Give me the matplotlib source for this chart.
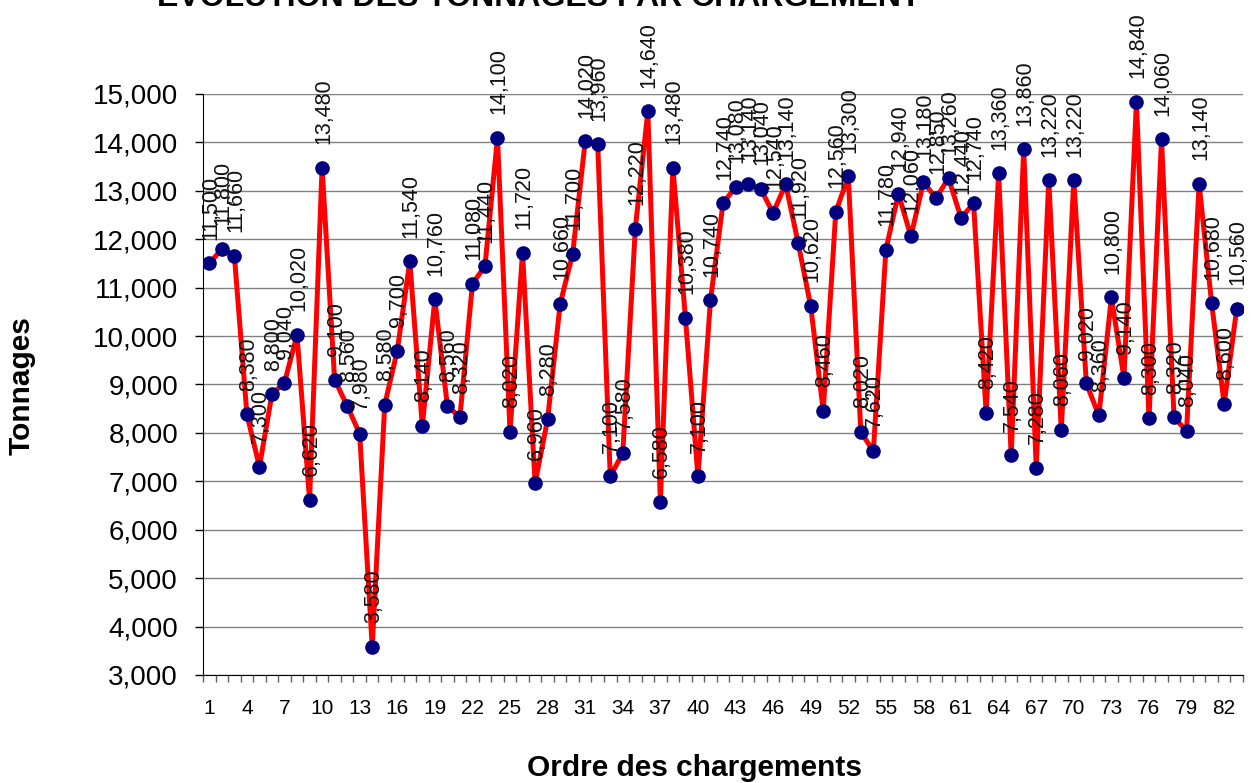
import matplotlib
matplotlib.use("Agg")
from matplotlib import pyplot as plt
from matplotlib.ticker import FuncFormatter, MultipleLocator

OUTPUT_FILE = "out.png"

TITLE = "EVOLUTION DES TONNAGES PAR CHARGEMENT"
X_LABEL = "Ordre des chargements"
Y_LABEL = "Tonnages"

# one value per loading, in order (1..83)
chargements = list(range(1, 84))
tonnages = [
    11500, 11800, 11660, 8380, 7300, 8800, 9040, 10020, 6620, 13480,
    9100, 8560, 7980, 3580, 8580, 9700, 11540, 8140, 10760, 8560,
    8320, 11080, 11440, 14100, 8020, 11720, 6960, 8280, 10660, 11700,
    14020, 13960, 7100, 7580, 12220, 14640, 6580, 13480, 10380, 7100,
    10740, 12740, 13080, 13140, 13040, 12540, 13140, 11920, 10620, 8460,
    12560, 13300, 8020, 7620, 11780, 12940, 12060, 13180, 12850, 13260,
    12440, 12740, 8420, 13360, 7540, 13860, 7280, 13220, 8060, 13220,
    9020, 8360, 10800, 9140, 14840, 8300, 14060, 8320, 8040, 13140,
    10680, 8600, 10560,
]
x_tick_labels = chargements[::3]


def thousands(v, pos):
    return "{:,.0f}".format(v)


def main():
    plt.rcParams['font.family'] = ["Liberation Sans", "DejaVu Sans"]

    fig = plt.figure(figsize=(12.55, 7.83), dpi=100)
    ax = fig.add_axes([0.1618, 0.138, 0.8286, 0.742])

    ax.plot(chargements, tonnages, color='#ff0000', linewidth=3.6,
            marker='o', markersize=9.5, markerfacecolor='#000080',
            markeredgecolor='#000080', zorder=3)

    # value above every point
    for x, y in zip(chargements, tonnages):
        ax.annotate("{:,}".format(y), (x, y), xytext=(1, 17),
                    textcoords='offset points', rotation=90,
                    ha='center', va='bottom', fontsize=15.5,
                    color='#111111', zorder=4, annotation_clip=False)

    ax.set_xlim(0.5, 83.5)
    ax.set_ylim(3000, 15000)

    # y axis
    ax.yaxis.set_major_locator(MultipleLocator(1000))
    ax.yaxis.set_major_formatter(FuncFormatter(thousands))
    ax.tick_params(axis='y', which='major', labelsize=20, length=6,
                   width=1, pad=12, color='#000000')
    ax.grid(axis='y', color='#808080', linewidth=1.0, zorder=0)

    # x axis: labels every third loading, small ticks between categories
    ax.set_xticks(x_tick_labels)
    ax.set_xticks([i + 0.5 for i in range(0, 84)], minor=True)
    ax.tick_params(axis='x', which='major', labelsize=15, length=0, pad=17)
    ax.tick_params(axis='x', which='minor', length=5, width=1,
                   color='#606060', direction='out')

    for side in ['top', 'right']:
        ax.spines[side].set_visible(False)
    ax.spines['left'].set_color('#000000')
    ax.spines['bottom'].set_color('#000000')
    ax.axhline(15000, color='#e6e6e6', linewidth=1.0, zorder=1)

    fig.text(0.4295, 1 - 6 / 783, TITLE, ha='center', va='baseline',
             fontsize=23, fontweight='bold')
    fig.text(0.553, 1 - 768 / 783, X_LABEL, ha='center', va='center',
             fontsize=21.5, fontweight='bold')
    fig.text(22 / 1255, 1 - 386 / 783, Y_LABEL, ha='center', va='center',
             rotation=90, fontsize=21.5, fontweight='bold')

    fig.savefig(OUTPUT_FILE, dpi=100)
    return


if __name__ == "__main__":
    main()
